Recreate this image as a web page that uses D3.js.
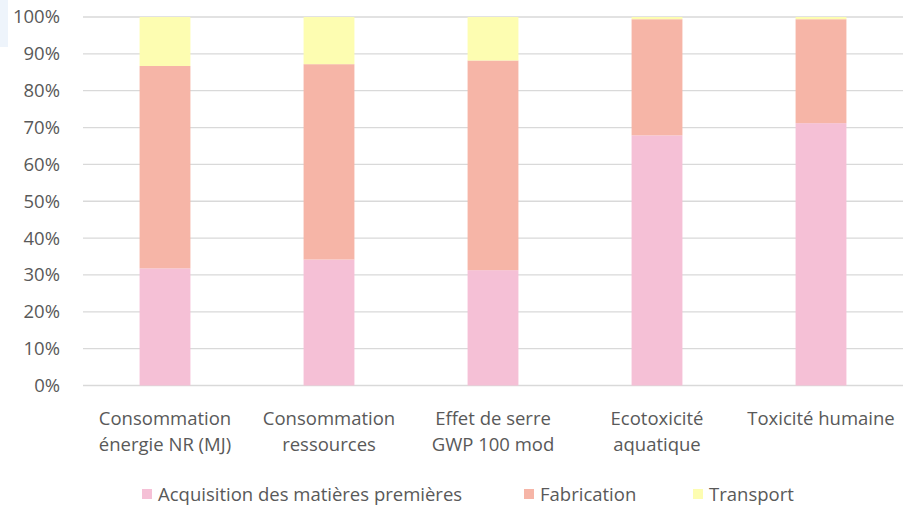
<!DOCTYPE html>
<html>
<head>
<meta charset="utf-8">
<script src="https://cdn.jsdelivr.net/npm/d3@7"></script>
<style>
  html, body { margin: 0; padding: 0; background: #fff; }
  svg { display: block; }
</style>
</head>
<body>
<svg id="chart" width="905" height="507"></svg>
<script>
// Life-cycle stage shares per impact indicator
const categories = [
  ["Consommation", "énergie NR (MJ)"],
  ["Consommation", "ressources"],
  ["Effet de serre", "GWP 100 mod"],
  ["Ecotoxicité", "aquatique"],
  ["Toxicité humaine"]
];
const seriesNames = ["Acquisition des matières premières", "Fabrication", "Transport"];
const acquisition = [0.318, 0.342, 0.313, 0.679, 0.712];
const fabrication = [0.549, 0.530, 0.569, 0.315, 0.282];
const transport   = [0.133, 0.128, 0.118, 0.006, 0.006];
const yTicks = [0, 0.1, 0.2, 0.3, 0.4, 0.5, 0.6, 0.7, 0.8, 0.9, 1.0];
const colors = ["#F5C0D6", "#F6B5A7", "#FDFDB1"];

const FONT = "'Open Sans', sans-serif";
const FS = 18.5;
const TEXT = "#595959";
const svg = d3.select("#chart");

// faint panel edge at the top-left corner
svg.append("rect").attr("x", 0).attr("y", 0).attr("width", 8).attr("height", 47).attr("fill", "#EEF4FB");

const x = d3.scaleBand().domain(d3.range(categories.length))
  .range([83, 903]).paddingInner(0.69).paddingOuter(0.345);
const y = d3.scaleLinear().domain([0, 1]).range([385.5, 17]);

// gridlines
svg.append("g").selectAll("line").data(yTicks).join("line")
  .attr("x1", 83).attr("x2", 903)
  .attr("y1", d => y(d)).attr("y2", d => y(d))
  .attr("stroke", "#D9D9D9").attr("stroke-width", 1.3);

// y axis labels
const yAxis = svg.append("g").attr("transform", "translate(60,0)")
  .call(d3.axisLeft(y).tickValues(yTicks).tickFormat(d3.format(".0%")).tickSize(0).tickPadding(0));
yAxis.select(".domain").remove();
yAxis.selectAll("text").attr("font-family", FONT).attr("font-size", FS).attr("fill", TEXT);

// stacked bars
const rows = categories.map((c, i) => ({ i, a: acquisition[i], f: fabrication[i], t: transport[i] }));
const stack = d3.stack().keys(["a", "f", "t"])(rows);
svg.append("g").selectAll("g").data(stack).join("g")
  .attr("fill", (d, k) => colors[k])
  .selectAll("rect").data(d => d).join("rect")
  .attr("x", d => x(d.data.i))
  .attr("width", x.bandwidth())
  .attr("y", d => y(d[1]))
  .attr("height", d => y(d[0]) - y(d[1]));

// category labels
const cat = svg.append("g");
categories.forEach((lines, i) => {
  lines.forEach((ln, j) => {
    cat.append("text")
      .attr("x", x(i) + x.bandwidth() / 2).attr("y", 425 + j * 25.5)
      .attr("text-anchor", "middle")
      .attr("font-family", FONT).attr("font-size", FS).attr("fill", TEXT).text(ln);
  });
});

// legend
const legendX = [142, 524, 693];
const lg = svg.append("g");
seriesNames.forEach((name, k) => {
  lg.append("rect").attr("x", legendX[k]).attr("y", 489).attr("width", 10).attr("height", 10).attr("fill", colors[k]);
  lg.append("text").attr("x", legendX[k] + 16).attr("y", 500.5)
    .attr("font-family", FONT).attr("font-size", FS).attr("fill", TEXT).text(name);
});
</script>
</body>
</html>
